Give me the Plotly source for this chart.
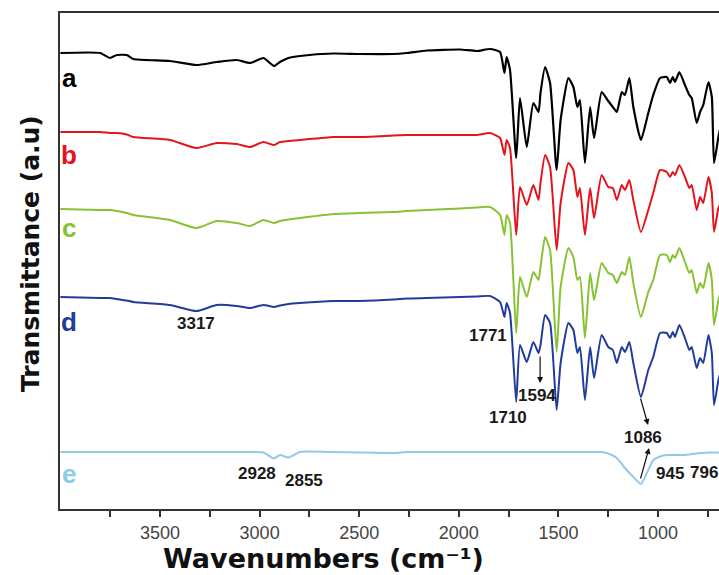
import plotly.graph_objects as go

# Wavenumber grid (cm^-1), shared by all spectra
wavenumbers = [4000, 3801, 3751, 3717, 3667, 3634, 3450, 3317, 3215, 3115,
               3048, 2981, 2928, 2898, 2855, 2797, 2630, 2500, 2329, 2262,
               2161, 1994, 1910, 1843, 1793, 1771, 1760, 1743, 1712, 1693,
               1659, 1626, 1600, 1590, 1567, 1542, 1509, 1489, 1450, 1425,
               1405, 1392, 1367, 1341, 1321, 1283, 1250, 1227, 1207, 1182,
               1166, 1144, 1124, 1086, 1049, 1024, 990, 956, 940, 926,
               915, 893, 865, 843, 831, 806, 789, 773, 747, 730,
               719, 697, 690]

# Transmittance (a.u., offset-stacked) for each sample
spec_a = [456, 456, 451, 454, 454, 450, 448, 444, 447, 449,
          446, 451, 443, 447, 451, 453, 455.5, 455, 455, 456,
          458.5, 459.5, 458, 460, 457, 436, 452, 439, 351, 411,
          362, 406, 397, 416, 442, 426, 339, 389, 431, 422,
          402, 409, 346, 402, 371, 417, 408, 402, 397, 417,
          414, 431, 402, 369, 396, 414, 431, 432, 426, 432,
          427, 437, 424, 414, 411, 386, 397, 404, 427, 412,
          346, 372, 379]
spec_b = [377, 377, 376, 376, 374.5, 372, 369, 361, 366, 365,
          362, 367, 364, 367, 368, 369, 372, 372, 373.5, 374,
          374, 374, 374, 376, 371, 354, 369, 361, 274, 322,
          304, 324, 309, 326, 354, 342, 259, 306, 346, 339,
          312, 321, 274, 321, 291, 334, 322, 321, 309, 324,
          319, 329, 309, 277, 299, 316, 339, 337, 332, 337,
          334, 344, 332, 321, 324, 299, 312, 306, 332, 316,
          277, 301, 304]
spec_c = [300, 299, 299, 298, 296, 294, 289, 281, 288, 286,
          283, 289, 286, 288, 289.5, 291, 295, 296, 297, 298,
          299, 300.5, 301.5, 302, 294, 274, 294, 286, 176, 232,
          212, 237, 229, 242, 272, 259, 157, 222, 261, 252,
          229, 232, 171, 236, 209, 246, 236, 234, 226, 237,
          234, 252, 226, 192, 217, 229, 254, 254, 247, 254,
          251, 261, 247, 236, 239, 216, 226, 221, 246, 229,
          184, 209, 214]
spec_d = [212, 211, 211, 210, 208.5, 207, 204, 198, 204, 203,
          201, 204, 202, 203.5, 205, 206, 208, 208, 209.5, 210.5,
          211, 212, 212.5, 213, 207, 192, 206, 196, 107, 164,
          147, 167, 156, 164, 194, 186, 99, 146, 186, 179,
          156, 162, 109, 162, 131, 174, 162, 159, 146, 162,
          157, 167, 146, 112, 139, 152, 176, 176, 171, 177,
          172, 184, 171, 159, 162, 141, 151, 146, 174, 156,
          104, 129, 134]
spec_e = [57, 57, 57, 57, 57, 57, 57, 57, 57, 57,
          57, 56.5, 50.5, 54, 51.5, 57, 57, 56.5, 56, 57,
          57, 57, 57, 57, 57, 57, 57, 57, 57, 57,
          57, 57, 57, 57, 57, 57, 57, 57, 57, 57,
          57, 57, 57, 57, 57, 57, 55.5, 53.5, 51, 45,
          41, 36, 32, 25, 39, 49, 52.5, 54, 54, 54,
          54, 54, 54, 54.5, 55, 55.5, 56, 56, 56.5, 56.5,
          56.5, 56.5, 56.5]

series_names = ["a", "b", "c", "d", "e"]
series_colors = ["#000000", "#e3141c", "#86c232", "#213c9a", "#8fcbe6"]
series_data = [spec_a, spec_b, spec_c, spec_d, spec_e]
series_widths = [2.2, 2, 2, 2, 2]
# label positions (wavenumber, a.u.)
label_x = [3955, 3955, 3955, 3955, 3955]
label_y = [431, 354, 281, 187, 35]

# peak labels: text, x, y
peak_text = ["3317", "1771", "1594", "1710", "1086", "945", "796", "2928", "2855"]
peak_x = [3317, 1853, 1607, 1753, 1075, 940, 769, 3013, 2777]
peak_y = [186, 174, 114, 92, 72, 36, 37, 36, 29]

fig = go.Figure()
for name, col, ys, w in zip(series_names, series_colors, series_data, series_widths):
    fig.add_trace(go.Scatter(x=wavenumbers, y=ys, mode="lines", name=name,
                             line=dict(color=col, width=w, shape="spline", smoothing=0.5),
                             showlegend=False, cliponaxis=True))

annots = []
for name, col, lx, ly in zip(series_names, series_colors, label_x, label_y):
    annots.append(dict(x=lx, y=ly, text="<b>%s</b>" % name, showarrow=False,
                       xref="x", yref="y",
                       font=dict(family="Liberation Sans, Arial", size=26, color=col),
                       xanchor="center", yanchor="middle"))
for t, px, py in zip(peak_text, peak_x, peak_y):
    annots.append(dict(x=px, y=py, text="<b>%s</b>" % t, showarrow=False,
                       xref="x", yref="y", xanchor="center", yanchor="middle",
                       font=dict(family="Liberation Sans, Arial", size=17, color="#1a1a1a")))

# arrows (head at x,y ; tail at ax,ay) in data coordinates
arrows = [(1592, 126, 1592, 154), (1050, 84, 1090, 112), (1045, 61, 1090, 29)]
for hx, hy, tx, ty in arrows:
    annots.append(dict(x=hx, y=hy, ax=tx, ay=ty, xref="x", yref="y",
                       axref="x", ayref="y", text="", showarrow=True,
                       arrowhead=2, arrowsize=1, arrowwidth=1.2, arrowcolor="#111"))

# axis titles
annots.append(dict(x=0.40, y=-0.133, xref="paper", yref="paper",
                   text="<b>Wavenumbers (cm\u207b\u00b9)</b>", showarrow=False,
                   xanchor="center", yanchor="bottom", borderpad=0,
                   font=dict(family="DejaVu Sans", size=27, color="#111")))
annots.append(dict(x=-0.0455, y=0.514, xref="paper", yref="paper",
                   text="<b>Transmittance (a.u)</b>", showarrow=False, textangle=-90,
                   xanchor="center", yanchor="middle",
                   font=dict(family="DejaVu Sans", size=25, color="#111")))

fig.update_layout(
    width=719, height=575,
    margin=dict(l=60, r=0, t=13, b=66),
    paper_bgcolor="white", plot_bgcolor="white",
    annotations=annots,
    xaxis=dict(range=[4002, 694], showgrid=False, zeroline=False,
               showline=True, mirror=True, linecolor="#333", linewidth=2,
               ticks="outside", ticklen=6, tickwidth=1.5, tickcolor="#333",
               tickvals=[3500, 3000, 2500, 2000, 1500, 1000],
               ticktext=["3500", "3000", "2500", "2000", "1500", "1000"],
               ticklabelstandoff=0,
               tickfont=dict(family="Liberation Sans, Arial", size=18, color="#444"),
               minor=dict(tickvals=[3750, 3250, 2750, 2250, 1750, 1250, 750],
                          ticks="outside", ticklen=6, tickwidth=1.5, tickcolor="#333")),
    yaxis=dict(range=[0, 496], showgrid=False, zeroline=False, showline=True,
               mirror=False, linecolor="#333", linewidth=2, showticklabels=False,
               ticks=""),
)

fig.write_html("out.html")
